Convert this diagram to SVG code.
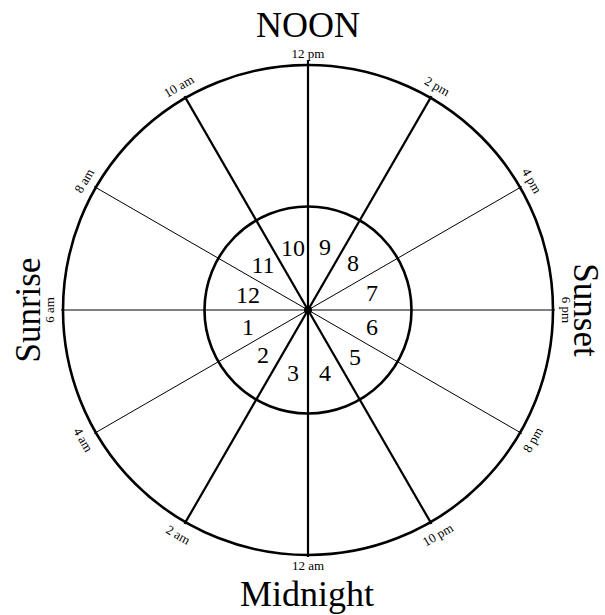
<svg xmlns="http://www.w3.org/2000/svg" width="605" height="615" viewBox="0 0 605 615">
<style>
text{font-family:"Liberation Serif","Times New Roman",serif;fill:#000;text-anchor:middle}
.big{font-size:36px}
.side{font-size:35px}
.tick{font-size:13px}
.num{font-size:24px}
.thick{stroke:#000;stroke-width:2.2;fill:none}
.thin{stroke:#000;stroke-width:1;fill:none}
.ring{stroke:#000;stroke-width:2.6;fill:none}
</style>
<rect width="605" height="615" fill="#fff"/>
<g id="connectors">
<line class="thick" x1="308" y1="60" x2="308" y2="557"/>
<line class="thick" x1="431.5" y1="96.1" x2="184.5" y2="523.9"/>
<line class="thick" x1="184.5" y1="96.1" x2="431.5" y2="523.9"/>
<line class="thin" x1="521.9" y1="186.5" x2="94.1" y2="433.5"/>
<line class="thin" x1="521.9" y1="433.5" x2="94.1" y2="186.5"/>
<line class="thin" x1="555" y1="310" x2="61" y2="310"/>
</g>
<g id="outer-circle"><circle class="ring" cx="308" cy="310" r="245"/></g>
<g id="inner-circle"><circle class="ring" cx="308" cy="310" r="103.5"/></g>
<g id="center"><circle cx="308" cy="310" r="4" fill="#000"/></g>
<g id="hour-labels">
<text class="tick" transform="translate(308,53)" y="5">12 pm</text>
<text class="tick" transform="translate(437.5,85.7) rotate(30)" y="5">2 pm</text>
<text class="tick" transform="translate(532.3,180.5) rotate(60)" y="5">4 pm</text>
<text class="tick" transform="translate(567,310) rotate(90)" y="5">6 pm</text>
<text class="tick" transform="translate(532.3,439.5) rotate(-60)" y="5">8 pm</text>
<text class="tick" transform="translate(437.5,534.3) rotate(-30)" y="5">10 pm</text>
<text class="tick" transform="translate(308,565)" y="5">12 am</text>
<text class="tick" transform="translate(178.5,534.3) rotate(30)" y="5">2 am</text>
<text class="tick" transform="translate(83.7,439.5) rotate(60)" y="5">4 am</text>
<text class="tick" transform="translate(49,310) rotate(-90)" y="5">6 am</text>
<text class="tick" transform="translate(83.7,180.5) rotate(-60)" y="5">8 am</text>
<text class="tick" transform="translate(178.5,85.7) rotate(-30)" y="5">10 am</text>
</g>
<g id="noon"><text class="big" x="308" y="37">NOON</text></g>
<g id="sunrise"><text class="side" transform="translate(40,310) rotate(-90)">Sunrise</text></g>
<g id="sunset"><text class="side" transform="translate(574,310) rotate(90)">Sunset</text></g>
<g id="midnight"><text class="big" x="307" y="606">Midnight</text></g>
<g id="sectors">
<text class="num" x="293" y="256">10</text>
<text class="num" x="325" y="255">9</text>
<text class="num" x="353" y="271">8</text>
<text class="num" x="372" y="301">7</text>
<text class="num" x="372" y="335">6</text>
<text class="num" x="355" y="365">5</text>
<text class="num" x="325" y="381">4</text>
<text class="num" x="293" y="381">3</text>
<text class="num" x="263" y="363">2</text>
<text class="num" x="248" y="335">1</text>
<text class="num" x="248" y="303">12</text>
<text class="num" x="263" y="273">11</text>
</g>
</svg>
